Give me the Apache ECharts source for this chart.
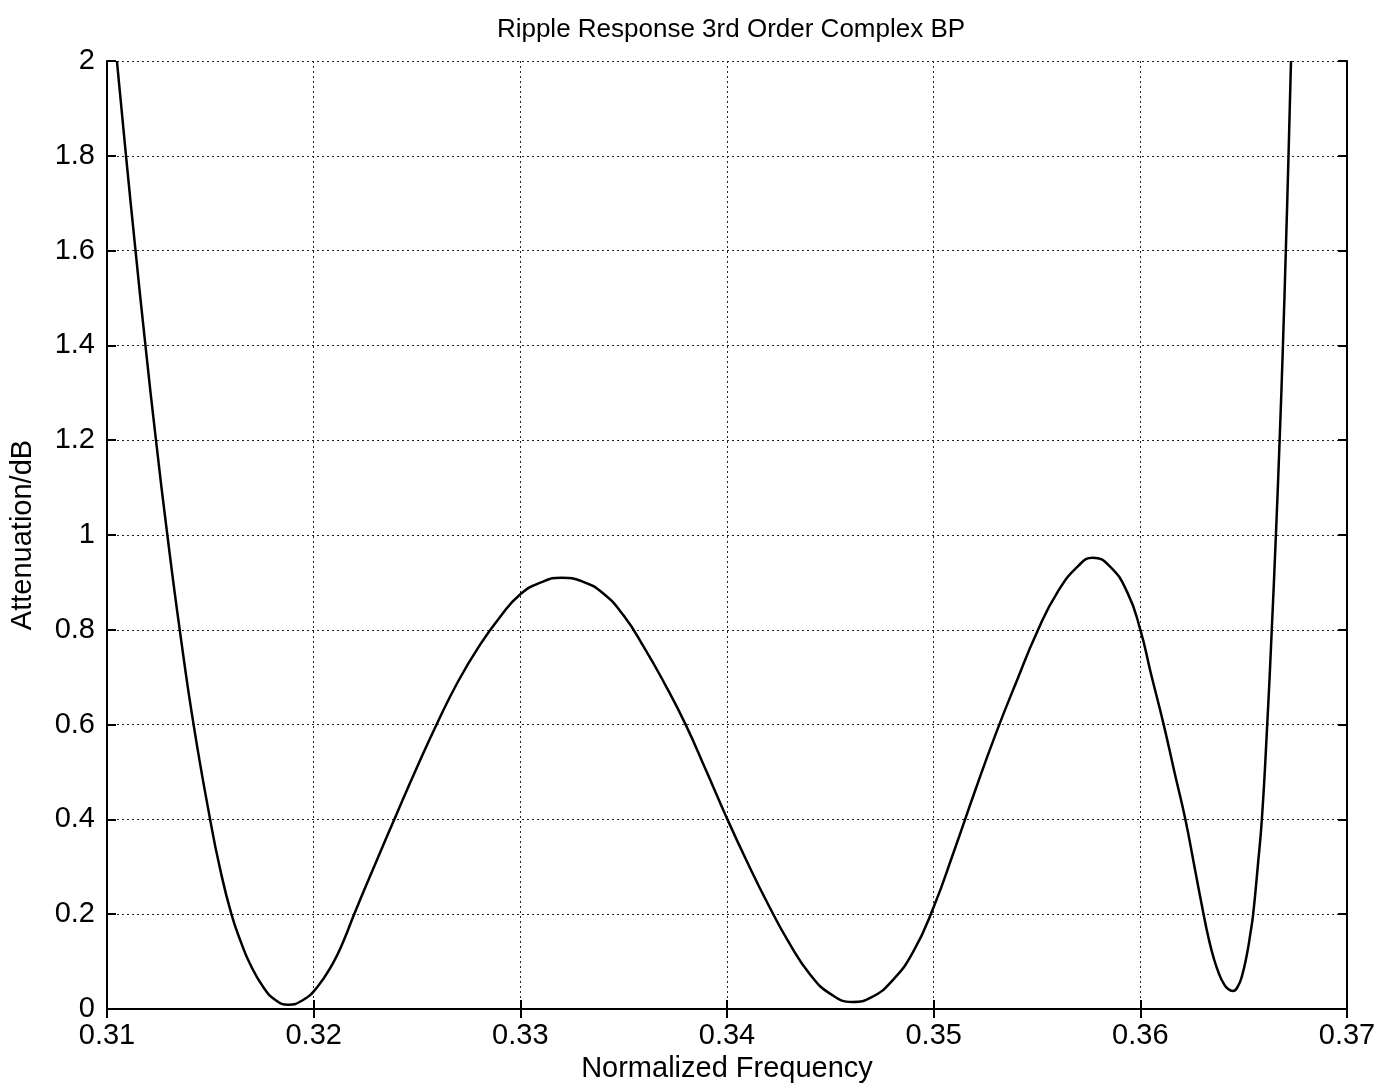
<!DOCTYPE html>
<html>
<head>
<meta charset="utf-8">
<style>
  html, body { margin: 0; padding: 0; background: #fff; }
  #chart { width: 1398px; height: 1090px; }
</style>
<script src="https://cdn.jsdelivr.net/npm/echarts@6/dist/echarts.min.js"></script>
</head>
<body>
<div id="chart"></div>
<script>
// Values
const titleText = 'Ripple Response 3rd Order Complex BP';
const xName = 'Normalized Frequency';
const yName = 'Attenuation/dB';

const frequency = [
  0.31048, 0.31092, 0.31138, 0.31186, 0.31237, 0.31292, 0.31352, 0.31419, 0.31499, 0.31545,
  0.31602, 0.31650, 0.31690, 0.31755, 0.31815, 0.31877, 0.31945, 0.32015, 0.32095, 0.32145,
  0.32196, 0.32300, 0.32400, 0.32500, 0.32600, 0.32700, 0.32800, 0.32900, 0.33000, 0.33100,
  0.33200, 0.33300, 0.33400, 0.33500, 0.33600, 0.33700, 0.33800, 0.33900, 0.34000, 0.34100,
  0.34200, 0.34300, 0.34400, 0.34500, 0.34606, 0.34700, 0.34800, 0.34900, 0.35000, 0.35100,
  0.35200, 0.35300, 0.35400, 0.35500, 0.35600, 0.35700, 0.35770, 0.35850, 0.35936, 0.36000,
  0.36050, 0.36113, 0.36165, 0.36218, 0.36262, 0.36306, 0.36330, 0.36354, 0.36380, 0.36403,
  0.36425, 0.36448, 0.36470, 0.36492, 0.36516, 0.36532, 0.36546, 0.36568, 0.36588, 0.36614,
  0.36636, 0.36656, 0.36674, 0.36690, 0.36704, 0.36717, 0.36729
];
const attenuation = [
  2.00, 1.80, 1.60, 1.40, 1.20, 1.00, 0.80, 0.60, 0.40, 0.30,
  0.20, 0.139, 0.097, 0.047, 0.019, 0.009, 0.018, 0.045, 0.098, 0.144,
  0.20, 0.308, 0.410, 0.510, 0.605, 0.692, 0.765, 0.826, 0.875, 0.900,
  0.910, 0.902, 0.877, 0.830, 0.762, 0.685, 0.600, 0.502, 0.402, 0.308,
  0.220, 0.140, 0.074, 0.032, 0.015, 0.025, 0.060, 0.120, 0.215, 0.335,
  0.460, 0.580, 0.690, 0.795, 0.880, 0.935, 0.952, 0.935, 0.880, 0.800,
  0.710, 0.600, 0.500, 0.400, 0.300, 0.200, 0.150, 0.109, 0.075, 0.054,
  0.042, 0.038, 0.046, 0.070, 0.116, 0.158, 0.200, 0.300, 0.400, 0.600,
  0.800, 1.000, 1.200, 1.400, 1.600, 1.800, 2.000
];

const xMin = 0.31, xMax = 0.37, xStep = 0.01;
const yMin = 0, yMax = 2, yStep = 0.2;

const points = frequency.map((f, i) => [f, attenuation[i]]);

const font = '"Liberation Sans", Arial, Helvetica, sans-serif';
const chart = echarts.init(document.getElementById('chart'));

const gridLine = { show: true, lineStyle: { color: '#222', width: 1, type: [2, 3] } };
const axLine = { show: true, lineStyle: { color: '#000', width: 2 } };
const tick = { show: true, inside: true, length: 9, lineStyle: { color: '#000', width: 2 } };

chart.setOption({
  animation: false,
  backgroundColor: '#fff',
  title: {
    text: titleText,
    left: 726, top: 12, textAlign: 'center',
    textStyle: { fontFamily: font, fontSize: 26, fontWeight: 'normal', color: '#000' }
  },
  grid: { left: 106, right: 51, top: 61, bottom: 81, containLabel: false },
  xAxis: [
    {
      type: 'value', min: xMin, max: xMax, interval: xStep, position: 'bottom',
      name: xName, nameLocation: 'middle', nameGap: 40,
      nameTextStyle: { fontFamily: font, fontSize: 29, color: '#000' },
      axisLine: axLine, axisTick: tick, splitLine: gridLine,
      axisLabel: { fontFamily: font, fontSize: 29, color: '#000', margin: 12,
        formatter: v => v.toFixed(2) }
    },
    {
      type: 'value', min: xMin, max: xMax, interval: xStep, position: 'top',
      axisLine: axLine, axisTick: tick, splitLine: { show: false }, axisLabel: { show: false }
    }
  ],
  yAxis: [
    {
      type: 'value', min: yMin, max: yMax, interval: yStep, position: 'left',
      name: yName, nameLocation: 'middle', nameGap: 70,
      nameTextStyle: { fontFamily: font, fontSize: 29, color: '#000' },
      axisLine: axLine, axisTick: tick, splitLine: gridLine,
      axisLabel: { fontFamily: font, fontSize: 29, color: '#000', margin: 12,
        formatter: v => (Math.round(v * 10) / 10).toString() }
    },
    {
      type: 'value', min: yMin, max: yMax, interval: yStep, position: 'right',
      axisLine: axLine, axisTick: tick, splitLine: { show: false }, axisLabel: { show: false }
    }
  ],
  series: [{
    type: 'line',
    data: points,
    xAxisIndex: 0, yAxisIndex: 0,
    showSymbol: false,
    smooth: 0.5,
    clip: true,
    lineStyle: { color: '#000', width: 2.5 }
  }]
});
</script>
</body>
</html>
